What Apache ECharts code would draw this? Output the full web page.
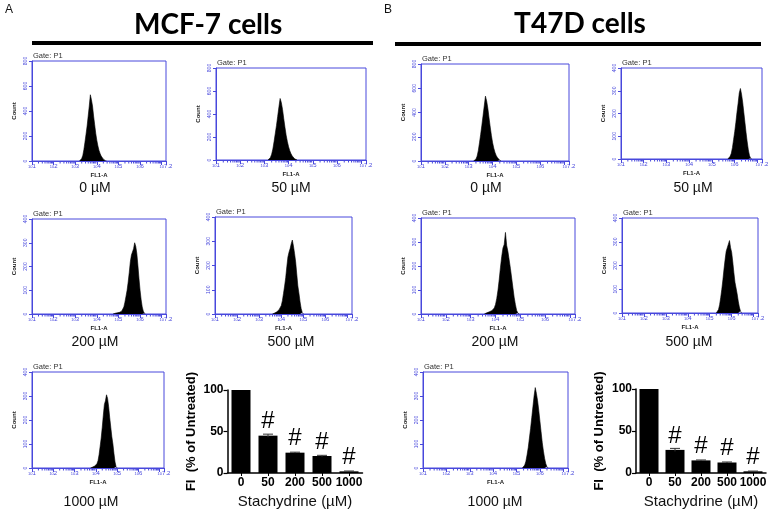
<!DOCTYPE html>
<html><head><meta charset="utf-8">
<script src="https://cdn.jsdelivr.net/npm/echarts@6/dist/echarts.min.js"></script>
<style>html,body{margin:0;padding:0;background:#fff}#c{width:775px;height:515px}</style>
</head><body><div id="c"></div>
<script>
// ================= DATA =================
// Flow-cytometry histograms: counts per bin of log10(FL1-A), bin width 0.05
const binStep = 0.05;
const mcf0Start = 3.20;
const mcf0Counts = [0,5,20,45,90,150,215,280,360,440,530,490,440,360,290,220,165,120,85,60,40,25,15,8,3,0];
const mcf50Start = 3.15;
const mcf50Counts = [0,6,22,50,95,160,230,300,380,460,535,500,440,360,285,215,160,115,80,55,35,20,10,4,0];
const t47d0Start = 3.20;
const t47d0Counts = [0,4,15,40,85,150,220,295,375,455,535,495,435,355,280,210,150,105,70,45,28,15,6,0];
const t47d50Start = 5.70;
const t47d50Counts = [0,4,12,25,50,85,120,160,205,245,290,310,285,250,205,160,115,75,40,15,3,0];
const mcf200Start = 4.75;
const mcf200Counts = [0,2,3,4,5,6,7,9,12,18,30,50,75,100,135,175,220,248,255,275,300,285,255,205,150,100,60,30,12,3,0];
const mcf500Start = 3.60;
const mcf500Counts = [0,2,4,6,9,13,18,25,35,55,85,115,150,195,235,255,270,290,305,280,250,215,165,115,85,50,22,6,0];
const t47d200Start = 3.55;
const t47d200Counts = [0,3,5,7,9,12,14,18,25,40,65,100,145,195,240,275,290,340,285,260,225,190,150,110,70,40,15,4,0];
const t47d500Start = 5.30;
const t47d500Counts = [0,4,15,35,65,100,140,185,225,260,265,290,305,275,255,215,170,130,105,80,50,25,8,0];
const mcf1000Start = 3.75;
const mcf1000Counts = [0,2,4,6,8,12,18,30,55,90,125,170,220,265,280,305,290,255,210,170,130,100,60,25,5,0];
const t47d1000Start = 5.25;
const t47d1000Counts = [0,4,12,28,55,85,125,165,210,255,300,335,310,280,240,195,150,105,70,40,18,5,0];

const histCaptions = ['0 µM','50 µM','0 µM','50 µM','200 µM','500 µM','200 µM','500 µM','1000 µM','1000 µM'];
const histYMax = [800,800,800,400,400,400,400,400,400,400];
const histXTicks = ['1','2','3','4','5','6','7.2'];

// Bar charts: fluorescence intensity (% of untreated)
const doseCats = ['0','50','200','500','1000'];
const mcfFI = [100, 45, 24.5, 20.5, 2];
const mcfErr = [0, 1.8, 0.6, 0.8, 0.4];
const t47dFI = [100, 27.5, 15, 12.5, 2];
const t47dErr = [0, 1.8, 0.5, 0.6, 0.3];
const sigMarks = ['', '#', '#', '#', '#'];

// ================= LAYOUT =================
const BLUE = '#4848dc';
const histSets = [
  [mcf0Start, mcf0Counts], [mcf50Start, mcf50Counts], [t47d0Start, t47d0Counts], [t47d50Start, t47d50Counts],
  [mcf200Start, mcf200Counts], [mcf500Start, mcf500Counts], [t47d200Start, t47d200Counts], [t47d500Start, t47d500Counts],
  [mcf1000Start, mcf1000Counts], [t47d1000Start, t47d1000Counts]
];
const histBoxes = [
  [32,61,134,100],[216,68,150,92],[421,64,148,97],[621,68,141,91],
  [32,219,134,95],[215,217,137,97],[421,218,154,96],[622,218,136,95],
  [32,372,132,96],[423,372,145,96]
];
const captionPos = [[95,188],[291,188],[486,188],[693,188],[95,342],[291,342],[495,342],[689,342],[91,502],[495,502]];
const barBoxes = [[227.5,390,135,83],[636,389,130,84]];

const minorTickPos = [];
for (let d = 1; d < 7; d++) for (let k = 2; k <= 9; k++) minorTickPos.push([d + Math.log10(k), 0]);

const grids = [], xAxes = [], yAxes = [], series = [], graphics = [];

histBoxes.forEach((b, i) => {
  grids.push({left:b[0], top:b[1], width:b[2], height:b[3], show:true, borderColor:BLUE, borderWidth:1,
    backgroundColor:'transparent', containLabel:false, outerBoundsMode:'none'});
  xAxes.push({gridIndex:i, type:'value', min:1, max:7.2, interval:1,
    name:'FL1-A', nameLocation:'middle', nameGap:11,
    nameTextStyle:{fontSize:6, color:'#222', fontFamily:'Liberation Sans', fontWeight:'bold'},
    axisLine:{lineStyle:{color:BLUE, width:1}},
    axisTick:{show:true, inside:false, length:4, lineStyle:{color:BLUE}},
    splitLine:{show:false},
    axisLabel:{margin:2, fontFamily:'Liberation Sans',
      formatter: v => {
        const s = (Math.abs(v - 7.2) < 1e-6) ? '7.2' : (Math.abs(v - Math.round(v)) < 1e-6 && v < 7 ? String(Math.round(v)) : '');
        return histXTicks.indexOf(s) >= 0 ? '{b|10}{e|' + s + '}' : '';
      },
      rich:{ b:{fontSize:4, color:BLUE, verticalAlign:'bottom'}, e:{fontSize:6, color:BLUE, verticalAlign:'top'} }
    }
  });
  yAxes.push({gridIndex:i, type:'value', min:0, max:histYMax[i], interval:histYMax[i]/4,
    name:'Count', nameLocation:'middle', nameGap:15,
    nameTextStyle:{fontSize:6, color:'#222', fontFamily:'Liberation Sans', fontWeight:'bold'},
    axisLine:{show:true, lineStyle:{color:BLUE, width:1}},
    axisTick:{show:true, length:3, lineStyle:{color:BLUE}},
    splitLine:{show:false},
    axisLabel:{rotate:90, fontSize:5, color:BLUE, margin:4, fontFamily:'Liberation Sans'}
  });
  const st = histSets[i][0];
  series.push({type:'line', xAxisIndex:i, yAxisIndex:i, symbol:'none', silent:true,
    data: histSets[i][1].map((c, j) => [+(st + j * binStep).toFixed(3), c]),
    lineStyle:{color:'#000', width:0.6}, areaStyle:{color:'#000', opacity:1}, z:3});
  series.push({type:'custom', xAxisIndex:i, yAxisIndex:i, silent:true, clip:false,
    data: minorTickPos, encode:{x:0, y:1},
    renderItem:(params, api) => {
      const p = api.coord([api.value(0), 0]);
      return {type:'line', shape:{x1:p[0], y1:p[1], x2:p[0], y2:p[1] + 2.5}, style:{stroke:BLUE, lineWidth:1}};
    }});
  graphics.push({type:'text', left:b[0] + 1, top:b[1] - 9,
    style:{text:'Gate: P1', fontSize:7.5, fill:'#333', fontFamily:'Liberation Sans'}});
  graphics.push({type:'text', x:captionPos[i][0], y:captionPos[i][1],
    style:{text:histCaptions[i], fontSize:14, fill:'#111', fontFamily:'Liberation Sans', align:'center', verticalAlign:'middle'}});
});

const barSets = [[mcfFI, mcfErr], [t47dFI, t47dErr]];
barBoxes.forEach((b, k) => {
  const gi = histBoxes.length + k;
  grids.push({left:b[0], top:b[1], width:b[2], height:b[3], show:false, containLabel:false, outerBoundsMode:'none'});
  xAxes.push({gridIndex:gi, type:'category', data:doseCats,
    name:'Stachydrine (µM)', nameLocation:'middle', nameGap:21,
    nameTextStyle:{fontSize:15, color:'#111', fontFamily:'Liberation Sans'},
    axisLine:{lineStyle:{color:'#000', width:1.5}},
    axisTick:{show:true, alignWithLabel:true, length:3, lineStyle:{color:'#000'}},
    axisLabel:{fontSize:12, fontWeight:'bold', color:'#000', margin:4, fontFamily:'Liberation Sans', interval:0}
  });
  yAxes.push({gridIndex:gi, type:'value', min:0, max:100, interval:50,
    name:'FI  (% of Untreated)', nameLocation:'middle', nameGap:30,
    nameTextStyle:{fontSize:13, fontWeight:'bold', color:'#000', fontFamily:'Liberation Sans'},
    axisLine:{show:true, lineStyle:{color:'#000', width:1.5}},
    axisTick:{show:true, length:4, lineStyle:{color:'#000', width:1.2}},
    splitLine:{show:false},
    axisLabel:{fontSize:12, fontWeight:'bold', color:'#000', margin:4, fontFamily:'Liberation Sans'}
  });
  series.push({type:'bar', xAxisIndex:gi, yAxisIndex:gi, barWidth:19, data:barSets[k][0],
    itemStyle:{color:'#000'},
    label:{show:true, position:'top', distance:2, fontSize:24, color:'#000', fontFamily:'Liberation Sans',
      formatter: p => sigMarks[p.dataIndex]}});
  series.push({type:'custom', xAxisIndex:gi, yAxisIndex:gi, silent:true, clip:false, z:5,
    data: barSets[k][0].map((v, j) => [j, v, barSets[k][1][j]]), encode:{x:0, y:1},
    renderItem:(params, api) => {
      const e = api.value(2); if (!e) return null;
      const t = api.coord([api.value(0), api.value(1) + e]);
      const bt = api.coord([api.value(0), api.value(1) - e]);
      return {type:'group', children:[
        {type:'line', shape:{x1:t[0], y1:t[1], x2:bt[0], y2:bt[1]}, style:{stroke:'#333', lineWidth:1}},
        {type:'line', shape:{x1:t[0]-5, y1:t[1], x2:t[0]+5, y2:t[1]}, style:{stroke:'#333', lineWidth:1}}
      ]};
    }});
});

// headers
graphics.push({type:'text', left:5, top:4, style:{text:'A', fontSize:12, fill:'#111', fontFamily:'Liberation Sans'}});
graphics.push({type:'text', left:384, top:4, style:{text:'B', fontSize:12, fill:'#111', fontFamily:'Liberation Sans'}});
graphics.push({type:'text', x:134, y:25, style:{text:'MCF-7 cells', fontSize:28, fontWeight:'bold', fill:'#000', fontFamily:'Lato', align:'left', verticalAlign:'middle'}});
graphics.push({type:'text', x:580, y:24, style:{text:'T47D cells', fontSize:28, fontWeight:'bold', fill:'#000', fontFamily:'Lato', align:'center', verticalAlign:'middle'}});
graphics.push({type:'line', shape:{x1:32, y1:43, x2:373, y2:43}, style:{stroke:'#000', lineWidth:4}});
graphics.push({type:'line', shape:{x1:395, y1:44, x2:761, y2:44}, style:{stroke:'#000', lineWidth:4}});

const chart = echarts.init(document.getElementById('c'), null, {renderer:'canvas', width:775, height:515});
chart.setOption({
  animation:false,
  backgroundColor:'#fff',
  grid:grids, xAxis:xAxes, yAxis:yAxes, series:series, graphic:graphics
});
</script></body></html>
